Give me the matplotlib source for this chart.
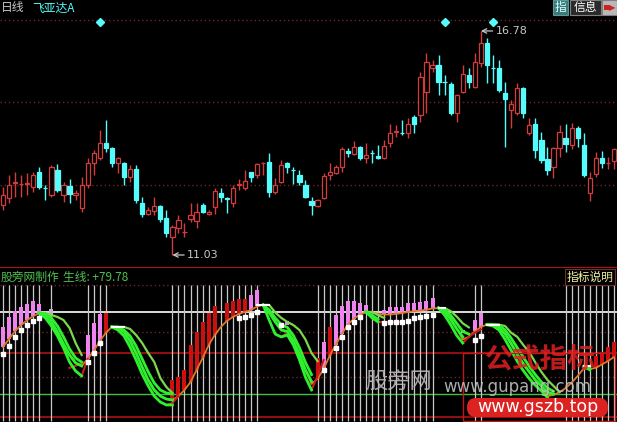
#! /usr/bin/env python3
import numpy as np
import matplotlib
matplotlib.use("Agg")
import matplotlib.pyplot as plt
from matplotlib.patches import Rectangle, FancyBboxPatch

plt.rcParams['font.family'] = ['Noto Sans CJK SC', 'DejaVu Sans']

# ---- daily candles ----
opens = [12.31, 12.49, 12.88, 12.85, 12.86, 12.77, 13.16, 12.76, 12.57, 13.21,
         12.57, 12.80, 12.57, 12.23, 12.82, 13.39, 13.52, 13.90, 13.78, 13.39,
         13.39, 13.03, 13.24, 12.36, 12.08, 12.15, 12.28, 11.98, 11.49, 11.72,
         11.61, 11.95, 11.90, 12.31, 12.08, 12.26, 12.62, 12.50, 12.36, 12.83,
         12.75, 13.16, 13.08, 13.38, 13.42, 12.64, 12.90, 13.39, 13.22, 13.08,
         12.82, 12.41, 12.28, 12.49, 13.08, 13.13, 13.29, 13.70, 13.62, 13.80,
         13.52, 13.66, 13.57, 13.52, 13.90, 14.18, 14.17, 14.16, 14.57, 14.62,
         15.21, 15.83, 15.91, 15.48, 15.42, 14.67, 15.21, 15.65, 15.34, 15.96,
         16.47, 15.84, 15.83, 15.19, 14.75, 14.67, 15.31, 14.16, 14.39, 13.98,
         13.49, 13.29, 13.78, 14.03, 13.85, 14.29, 13.85, 12.62, 13.11, 13.52,
         13.38, 13.44]
highs = [12.77, 13.08, 13.16, 13.08, 13.13, 13.16, 13.29, 12.82, 13.34, 13.37,
         12.90, 12.98, 12.70, 13.03, 13.52, 13.72, 14.24, 14.50, 13.80, 13.54,
         13.42, 13.34, 13.34, 12.52, 12.26, 12.52, 12.31, 12.18, 11.80, 12.05,
         11.85, 12.36, 12.36, 12.36, 12.18, 12.75, 12.75, 12.52, 12.82, 12.98,
         13.21, 13.16, 13.39, 13.42, 13.65, 13.00, 13.47, 13.42, 13.29, 13.21,
         12.95, 12.52, 12.46, 13.13, 13.39, 13.34, 13.80, 13.78, 13.95, 13.83,
         13.90, 13.72, 13.85, 13.98, 14.39, 14.37, 14.50, 14.55, 14.62, 15.73,
         16.21, 16.03, 16.16, 15.65, 15.47, 15.16, 15.91, 15.83, 16.21, 16.78,
         16.60, 16.16, 16.03, 15.47, 15.01, 15.44, 15.34, 14.55, 14.55, 14.19,
         13.80, 13.80, 14.37, 14.39, 14.42, 14.34, 14.16, 13.16, 13.67, 13.70,
         13.54, 13.78]
lows = [12.18, 12.36, 12.52, 12.52, 12.57, 12.64, 12.72, 12.44, 12.52, 12.64,
        12.39, 12.36, 12.44, 12.13, 12.75, 13.08, 13.47, 13.67, 13.29, 13.13,
        12.82, 12.90, 12.36, 12.00, 12.05, 12.05, 11.88, 11.49, 11.03, 11.59,
        11.49, 11.88, 11.72, 12.10, 12.05, 12.08, 12.39, 12.10, 12.26, 12.70,
        12.70, 12.90, 13.00, 13.08, 12.52, 12.59, 12.88, 13.13, 12.85, 12.82,
        12.49, 12.05, 12.26, 12.46, 12.95, 13.11, 13.16, 13.54, 13.60, 13.47,
        13.39, 13.39, 13.49, 13.49, 13.80, 14.06, 14.11, 14.03, 14.16, 14.44,
        14.67, 15.73, 15.14, 15.14, 14.62, 14.44, 15.19, 15.32, 15.32, 15.85,
        15.44, 15.44, 15.21, 13.80, 14.29, 14.62, 14.55, 14.11, 13.52, 13.39,
        13.08, 13.00, 13.54, 13.67, 13.75, 13.80, 13.03, 12.41, 13.03, 13.26,
        13.24, 13.24]
closes = [12.57, 12.82, 12.89, 12.86, 12.87, 13.08, 12.77, 12.74, 13.29, 12.70,
          12.82, 12.59, 12.62, 12.82, 13.39, 13.65, 13.90, 13.78, 13.39, 13.52,
          13.03, 13.24, 12.44, 12.08, 12.18, 12.28, 11.95, 11.59, 11.75, 11.93,
          11.63, 12.05, 12.13, 12.13, 12.13, 12.67, 12.52, 12.46, 12.75, 12.85,
          12.93, 13.03, 13.37, 13.40, 12.64, 12.82, 13.34, 13.29, 13.20, 12.90,
          12.52, 12.31, 12.44, 13.05, 13.16, 13.29, 13.75, 13.65, 13.80, 13.52,
          13.60, 13.64, 13.52, 13.83, 14.16, 14.20, 14.15, 14.39, 14.39, 15.60,
          15.98, 15.91, 15.47, 15.46, 14.67, 15.14, 15.67, 15.47, 15.98, 16.47,
          15.91, 15.82, 15.26, 15.03, 14.90, 15.31, 14.67, 14.37, 13.72, 13.47,
          13.21, 13.78, 14.19, 13.88, 14.29, 14.04, 13.08, 13.00, 13.52, 13.39,
          13.40, 13.75]

period = "日线"
stock_name = "飞亚达A"
diamond_idx = [16, 73, 81]
price_grid = [12.82, 14.96, 17.06]

# ---- indicator panel ----
ind_title = "股旁网制作"
line_name = "生线"
line_value = 79.78

k_line = [54.4, 60.4, 66.3, 70.7, 74.4, 77.4, 79.6,
          77.4, 73, 65.6, 56.7, 48.5, 42.6, 40.5,
          45.6, 51.5, 58.9, 65, 69.3,
          68.5, 65.6, 58.9, 50, 39.6, 30, 22.6, 18.1, 15.9, 15.2,
          18.1, 22.6, 28.5, 37.4, 46.3, 55.9, 63.3, 69.3, 73.7, 76.7, 78.9, 80.4, 81.9, 84.5,
          85.6, 80, 73, 67, 66, 59, 49, 37.4, 27,
          31, 38, 48, 56, 64, 71, 75.5, 78.5, 80, 80, 79, 78.5, 78.5, 79, 79.6, 80.4,
          81, 81.5, 82, 83, 83.3,
          80.4, 75, 68, 60,
          62, 66, 69.3, 71,
          70.7, 69, 64, 57, 49, 42, 36, 30, 25.6, 18,
          19, 21, 24, 28, 33, 38.5, 38, 39, 41.5, 44, 47]

# (start index, values)
green1 = [(6, [79.6, 75.9, 70, 62.6, 53.7, 43.3, 36.7, 33]),
          (18, [69.3, 67, 62.6, 54.4, 44.8, 34.4, 25.6, 18.1, 13.7, 11.5, 11.5]),
          (43, [85.6, 74.4, 64, 61.9, 63.3, 56, 45, 32, 22.6]),
          (60, [80.4, 76, 73]),
          (72, [83.3, 78, 71, 63, 57.4]),
          (80, [71, 70, 67, 60, 52, 44, 37, 31, 26, 22, 17]),
          (96, [40, 37.5])]
green2 = [(6, [79.6, 77.4, 73, 65.6, 56.7, 48.5, 42.6, 40.4]),
          (18, [69.3, 68.5, 65.6, 58.9, 50, 39.6, 30, 22.6, 18.1, 15.9, 15.2]),
          (43, [85.6, 80, 73, 67, 66, 59, 49, 37.4, 29]),
          (60, [80.4, 78, 75]),
          (72, [83.3, 80.4, 75, 68, 62]),
          (80, [71, 70.7, 69, 64, 57, 49, 42, 36, 30, 25.6, 21, 19.6]),
          (96, [40, 38.5])]
green3 = [(6, [79.6, 78.9, 75.9, 70, 61.9, 53, 46.3, 43.3]),
          (18, [69.3, 69.3, 67, 62.6, 55.2, 45.6, 36, 27.8, 22.6, 20.4, 19.6]),
          (43, [85.6, 82, 76, 71, 69, 63, 54, 43, 34]),
          (72, [83.3, 82, 78, 72, 66, 64]),
          (80, [71, 71, 70.7, 67, 61, 54, 47, 40, 34, 28.5, 24.1, 21.5])]
green4 = [(6, [79.6, 79.6, 78.1, 76.7, 74.4, 68.5, 57.4, 48.5]),
          (18, [69.3, 69.3, 69.3, 67.8, 63.3, 57.4, 50, 43.3, 31.5, 24.8, 20.4]),
          (43, [85.6, 85.6, 80, 76, 73, 70.7, 67, 60, 50, 44]),
          (60, [80.4, 80.4, 78, 76]),
          (72, [83.3, 83.3, 81, 77, 72, 69]),
          (80, [71, 71, 71, 70, 65, 62, 56, 50.7, 43, 36, 30, 25.6, 21])]
red_turn = [(11, [39, 40.5, 42.6]), (13, [33, 45.6]),
            (26, [13.7, 11.5, 13, 18.1]), (46, [61.9, 64.8]),
            (51, [22.6, 33, 44.8]), (62, [73, 73, 73, 73, 73]),
            (76, [57.4, 62, 65, 67.5])]
white_top = [(18, [69.3, 69.3, 69.3]), (42, [85.6, 85.6, 85.6]),
             (72, [83.3, 83.3]), (80, [71, 71, 71]), (96, [40, 40])]

bar_idx = [0, 1, 2, 3, 4, 5, 6, 8, 14, 15, 16, 17,
           28, 29, 30, 31, 32, 33, 34, 35, 37, 38, 39, 40, 41, 42, 47,
           52, 53, 54, 55, 56, 57, 58, 59, 60, 63, 64, 65, 66, 67, 68, 69, 70, 71,
           76, 78, 79, 98, 99, 100, 101]
bar_low = [54.4, 60.4, 66.3, 70.7, 74.4, 77.4, 79.6, 77.4, 45.6, 51.5, 58.9, 65,
           15.2, 18.1, 22.6, 28.5, 37.4, 46.3, 55.9, 63.3, 73.7, 76.7, 78.9, 80.4, 81.9, 84.5, 71,
           31, 38, 48, 56, 64, 71, 75.5, 78.5, 80, 78.5, 78.5, 79, 79.6, 80.4, 81, 81.5, 82, 83,
           64.8, 66, 69.3, 39, 41.5, 44, 47]
bar_high = [69, 76.7, 81, 84, 86.3, 88.5, 86.3, 82.6, 63.3, 72.2, 78.9, 79.6,
            30, 32.2, 37.4, 55.9, 65.6, 73, 79.6, 84.8, 87.1, 88.5, 90, 90, 93, 96.7, 74,
            46.3, 58, 69.3, 78.1, 84.8, 88.5, 88.5, 87, 85.6, 81.9, 84, 84, 84, 87, 87, 87.8, 88.5, 90.7,
            67, 74.4, 79.6, 48, 50.7, 54.4, 58]
bar_kind = "pppppppg" + "pppr" + "rrrrrrrrrrrrpp" + "p" + "rprpppppp" + "ppppppppp" + "gpp" + "rrrr"

square_idx = [0, 1, 2, 3, 4, 5, 6, 14, 15, 16, 39, 40, 41, 42, 46,
              53, 55, 56, 57, 58, 59, 63, 64, 65, 66, 67, 68, 69, 70, 71, 78, 79]
square_val = [49.3, 55.2, 61.9, 67, 70.7, 73.7, 75.9, 43.3, 50, 57.4, 75.9, 76.7, 78.1, 80.4, 71,
              37.4, 53.7, 61.9, 69.3, 73, 76.7, 72.2, 73, 73, 73, 73.7, 75.9, 76.3, 77.4, 78.5,
              59.6, 62.6]

signal_idx = (list(range(0, 7)) + [8] + list(range(14, 18)) + list(range(28, 43))
              + list(range(52, 72)) + [78, 79] + list(range(93, 102)))
ind_grid = [32.2, 65.6, 100]

RED = '#d23c3c'
CYAN = '#54fcfc'
DOT = '#6e2424'
SEP = '#b01010'


def draw_segments(ax, segs, **kw):
    for start, vals in segs:
        ax.plot(np.arange(start, start + len(vals)), vals, **kw)


fig = plt.figure(figsize=(6.17, 4.22), dpi=100, facecolor='black')
ax1 = fig.add_axes([0, 154 / 422, 1, 268 / 422])
ax2 = fig.add_axes([0, 0, 1, 154 / 422])
for ax in (ax1, ax2):
    ax.set_facecolor('black')
    ax.set_xlim(-0.5, 101.5)
    ax.set_xticks([])
    ax.set_yticks([])
    for s in ax.spines.values():
        s.set_visible(False)
ax1.spines['bottom'].set_visible(True)
ax1.spines['bottom'].set_color(SEP)
ax1.spines['bottom'].set_linewidth(1.5)
ax1.set_ylim(10.696, 17.575)
ax2.set_ylim(-1.11, 112.96)

# ---- candles ----
x = np.arange(len(opens))
o = np.array(opens)
c = np.array(closes)
h = np.array(highs)
l = np.array(lows)
up = c >= o
for g in price_grid:
    ax1.axhline(g, color=DOT, lw=1, ls=(0, (1, 2)), zorder=1)
ax1.vlines(x[up], l[up], h[up], color=RED, lw=1, zorder=2)
ax1.vlines(x[~up], l[~up], h[~up], color=CYAN, lw=1, zorder=2)
body_lo = np.minimum(o, c)
body_h = np.maximum(np.abs(c - o), 0.012)
ax1.bar(x[up], body_h[up], bottom=body_lo[up], width=0.7,
        facecolor='black', edgecolor=RED, lw=0.9, zorder=3)
ax1.bar(x[~up], body_h[~up], bottom=body_lo[~up], width=0.7,
        facecolor=CYAN, edgecolor=CYAN, lw=0.9, zorder=3)

ax1.plot(diamond_idx, [0.918] * len(diamond_idx), 'D', color=CYAN, ms=4.5,
         transform=ax1.get_xaxis_transform(), zorder=4)

imax = int(np.argmax(h))
imin = int(np.argmin(l))
arrow = dict(arrowstyle='->', color='#c8c8c8', lw=0.9, shrinkA=0, shrinkB=0)
ax1.annotate(f"{h[imax]:.2f}", xy=(imax, h[imax]), xytext=(imax + 2.4, h[imax]),
             color='#c8c8c8', fontsize=8, va='center', ha='left', arrowprops=arrow,
             family='DejaVu Sans')
ax1.annotate(f"{l[imin]:.2f}", xy=(imin, l[imin]), xytext=(imin + 2.4, l[imin]),
             color='#c8c8c8', fontsize=8, va='center', ha='left', arrowprops=arrow,
             family='DejaVu Sans')

# ---- indicator ----
for g in ind_grid:
    ax2.axhline(g, color=DOT, lw=1, ls=(0, (1, 2)), zorder=1)
ax2.axhline(80, color='white', lw=1.2, zorder=1)
ax2.axhline(50, color=SEP, lw=1.2, zorder=1)
ax2.axhline(20, color='#40c040', lw=1, zorder=1)
ax2.axhline(2.6, color=SEP, lw=1.2, zorder=1)

ax2.vlines(signal_idx, 0, 100, color='#c8c8c8', lw=0.9, zorder=2)

kind_color = {'p': '#ee82ee', 'r': '#cc1010', 'g': '#c8b0c8'}
bl = np.array(bar_low)
bh = np.array(bar_high)
ax2.bar(bar_idx, bh - bl, bottom=bl, width=0.66,
        color=[kind_color[k] for k in bar_kind], zorder=3)

ax2.plot(x, k_line, color='#e0782a', lw=1.3, zorder=4)
draw_segments(ax2, red_turn, color='#cc1a1a', lw=1.5, zorder=5)
draw_segments(ax2, green4, color='#7ad84a', lw=1.6, zorder=6)
draw_segments(ax2, green3, color='#2ef02e', lw=2, zorder=6)
draw_segments(ax2, green2, color='#2ef02e', lw=2, zorder=6)
draw_segments(ax2, green1, color='#2ef02e', lw=2, zorder=6)
draw_segments(ax2, white_top, color='white', lw=1.5, zorder=7)
ax2.plot(square_idx, square_val, 's', color='white', ms=3.4, zorder=8)

# ---- texts and screen furniture (pixel coordinates) ----
ov = fig.add_axes([0, 0, 1, 1], zorder=10)
ov.set_xlim(0, 617)
ov.set_ylim(422, 0)
ov.axis('off')
ov.patch.set_alpha(0)

ov.text(1, 8, period, color='#c8c8c8', fontsize=8.5, va='center', ha='left')
ov.text(32, 8, stock_name, color=CYAN, fontsize=8.5, va='center', ha='left')

ov.add_patch(Rectangle((553, 0), 15, 15, fc='#3a7a7a', ec='#5a9a9a', lw=0.8))
ov.text(560.5, 7.5, "指", color='#e0ffff', fontsize=8.5, ha='center', va='center')
ov.add_patch(Rectangle((570, 0), 31, 15, fc='#2a2a2a', ec='#808080', lw=0.8))
ov.text(585.5, 7.5, "信息", color='white', fontsize=8.5, ha='center', va='center')
ov.add_patch(Rectangle((602, 0), 15, 15, fc='#b8b8b8', ec='#808080', lw=0.8))
ov.add_patch(Rectangle((604, 5), 6, 5, fc='#d02020', lw=0))
ov.text(612, 7.5, "▶", color='#d02020', fontsize=6, ha='center', va='center',
        family='DejaVu Sans')

ov.text(1, 277, ind_title, color='#50c050', fontsize=8.5, va='center', ha='left')
ov.text(63, 277, f"{line_name}: +{line_value:.2f}", color='#50c050', fontsize=8.5,
        va='center', ha='left')
ov.text(590, 277, "指标说明", color='#f0f0a0', fontsize=8.5, va='center', ha='center',
        bbox=dict(boxstyle='square,pad=0.15', fc='black', ec='#703030', lw=0.8))

# watermarks
ov.text(365, 381, "股旁网", color='#b8b8b8', fontsize=16, va='center', ha='left', alpha=0.9)
ov.text(443, 386.5, "www.gupang.com", color='#c0c0c0', fontsize=12, va='center', ha='left',
        family='DejaVu Sans', alpha=0.9)
ov.add_patch(Rectangle((463, 353), 152, 68, fill=False, ec='#c01818', lw=1))
ov.text(540, 359, "公式指标", color='#e02020', fontsize=20, fontweight='bold',
        va='center', ha='center', alpha=0.85)
ov.add_patch(FancyBboxPatch((467, 398), 141, 19, boxstyle='round,pad=0,rounding_size=9',
                            fc='#dd2222', ec='none'))
ov.text(537.5, 407.5, "www.gszb.top", color='white', fontsize=12.5, va='center',
        ha='center', family='DejaVu Sans')

fig.savefig('out.png', dpi=100, facecolor='black')
plt.close(fig)
